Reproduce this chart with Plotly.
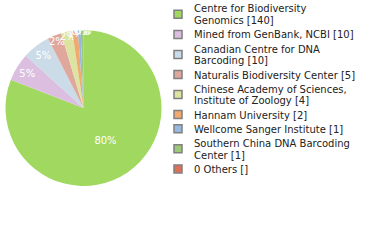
import plotly.graph_objects as go

names = ["Centre for Biodiversity\nGenomics", "Mined from GenBank, NCBI",
         "Canadian Centre for DNA\nBarcoding", "Naturalis Biodiversity Center",
         "Chinese Academy of Sciences,\nInstitute of Zoology", "Hannam University",
         "Wellcome Sanger Institute", "Southern China DNA Barcoding\nCenter", "0 Others"]
counts = [140, 10, 10, 5, 4, 2, 1, 1, 0]
count_labels = ["140", "10", "10", "5", "4", "2", "1", "1", ""]
colors = ["#a0d860", "#dcbfe0", "#cbdbe8", "#e0a89c", "#dde3a0",
          "#f0aa70", "#98b8e0", "#9cc878", "#dc7058"]

W, H = 380, 240
total = sum(counts)
pct = [f"{int(100 * v / total)}%" for v in counts]

fig = go.Figure()
fig.add_trace(go.Pie(
    values=counts, labels=[n.replace("\n", " ") for n in names],
    marker=dict(colors=colors, line=dict(width=0)),
    sort=False, direction="clockwise", rotation=0,
    customdata=pct, texttemplate="%{customdata}", textposition="inside",
    insidetextorientation="horizontal",
    textfont=dict(family="DejaVu Sans", size=10, color="white"),
    domain=dict(x=[5.5 / W, 161.5 / W], y=[1 - 186 / H, 1 - 30 / H]),
    showlegend=False, hoverinfo="label+value",
))

shapes, annots = [], []
y = 9.0
for name, c, col in zip(names, count_labels, colors):
    lines = name.split("\n")
    lines[-1] = lines[-1] + f" [{c}]"
    ys = []
    for ln in lines:
        ys.append(y)
        annots.append(dict(x=192 / W, y=1 - y / H, xref="paper", yref="paper",
                           text=ln, showarrow=False, xanchor="left", yanchor="middle",
                           font=dict(family="DejaVu Sans", size=10, color="#222")))
        y += 11.7
    y += 14.2 - 11.7
    cy = sum(ys) / len(ys) - 0.5
    shapes.append(dict(type="rect", xref="paper", yref="paper",
                       x0=174 / W, x1=182 / W, y0=1 - (cy - 4) / H, y1=1 - (cy + 4) / H,
                       fillcolor=col, line=dict(color="#808080", width=1.5)))

fig.update_layout(width=W, height=H, margin=dict(l=0, r=0, t=0, b=0),
                  paper_bgcolor="white", plot_bgcolor="white",
                  shapes=shapes, annotations=annots,
                  uniformtext=dict(minsize=10, mode="show"))
fig.write_html("out.html")
